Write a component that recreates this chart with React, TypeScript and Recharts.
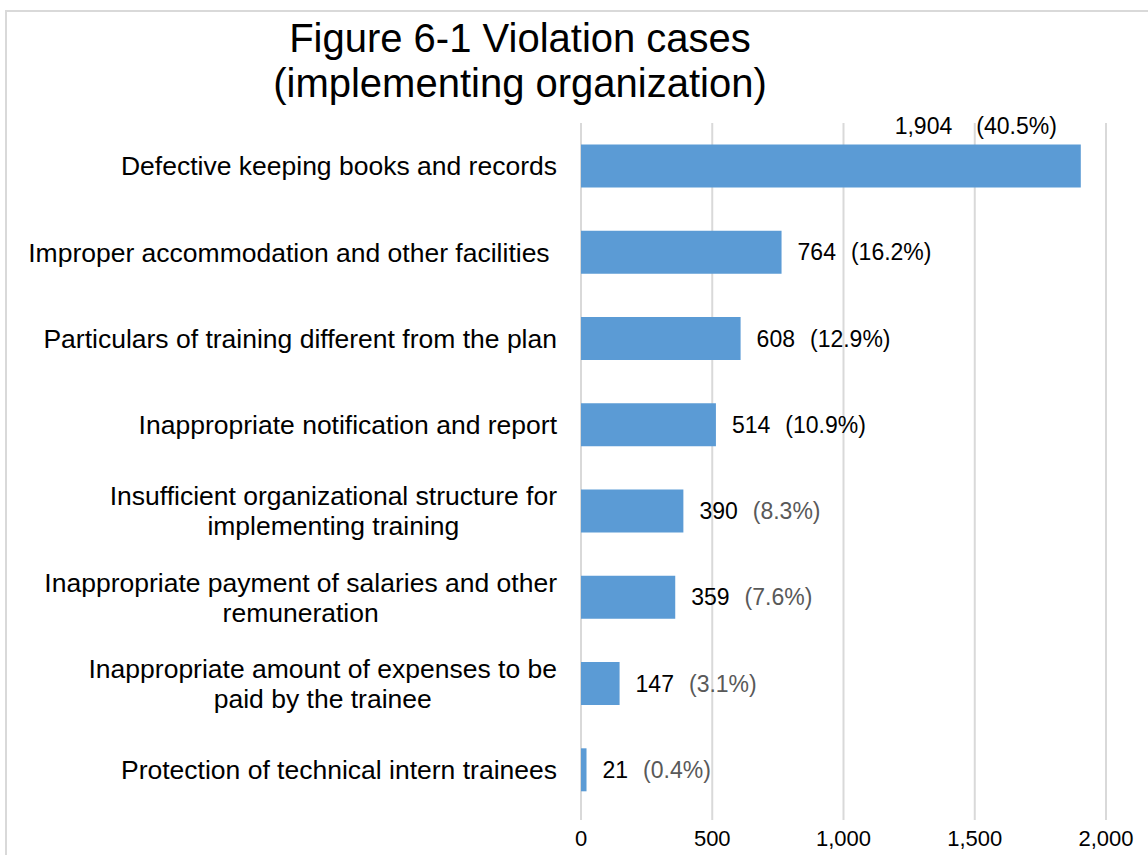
import React from "react";
import {
  BarChart,
  Bar,
  XAxis,
  YAxis,
  CartesianGrid,
  LabelList,
} from "recharts";

const categories = [
  "Defective keeping books and records",
  "Improper accommodation and other facilities ",
  "Particulars of training different from the plan",
  "Inappropriate notification and report",
  "Insufficient organizational structure for\nimplementing training",
  "Inappropriate payment of salaries and other\nremuneration",
  "Inappropriate amount of expenses to be\npaid by the trainee",
  "Protection of technical intern trainees",
];

const cases = [1904, 764, 608, 514, 390, 359, 147, 21];

const shares = ["40.5%", "16.2%", "12.9%", "10.9%", "8.3%", "7.6%", "3.1%", "0.4%"];

const xTicks = [0, 500, 1000, 1500, 2000];

const data = categories.map((name, i) => ({ name, cases: cases[i], share: shares[i] }));

const FONT = "'Liberation Sans', Arial, sans-serif";
const BLUE = "#5b9bd5";
const GRID = "#d9d9d9";
const CAT_SIZE = 26.5;

let ctx: CanvasRenderingContext2D | null = null;
function measure(text: string, size: number) {
  if (!ctx) ctx = document.createElement("canvas").getContext("2d");
  if (!ctx) return text.length * size * 0.5;
  ctx.font = `${size}px 'Liberation Sans'`;
  return ctx.measureText(text).width;
}

// right-aligned block, lines centred inside it (like Excel wraps)
function CategoryTick(props: any) {
  const { y, payload } = props;
  const lines: string[] = String(payload.value).split("\n");
  const right = 557;
  const w = Math.max(...lines.map((l) => measure(l, CAT_SIZE)));
  const cx = right - w / 2;
  const lh = 30;
  const start = y - ((lines.length - 1) * lh) / 2;
  return (
    <text
      textAnchor="middle"
      fontFamily={FONT}
      fontSize={CAT_SIZE}
      fill="#000"
      style={{ whiteSpace: "pre" }}
    >
      {lines.map((l, i) => (
        <tspan key={i} x={cx} y={start + i * lh} dy="0.35em">
          {l}
        </tspan>
      ))}
    </text>
  );
}

function ValueTick(props: any) {
  const { x, y, payload } = props;
  return (
    <text x={x} y={y} dy={24} textAnchor="middle" fontFamily={FONT} fontSize={22} fill="#000">
      {Number(payload.value).toLocaleString("en-US")}
    </text>
  );
}

function BarLabel(props: any) {
  const { x, y, width, height, index } = props;
  const d = data[index];
  const pctColor = index < 4 ? "#000" : "#595959";
  if (index === 0) {
    return (
      <text
        x={x + width - 24}
        y={y - 19}
        textAnchor="end"
        dominantBaseline="central"
        fontFamily={FONT}
        fontSize={23}
        fill="#000"
      >
        <tspan>{d.cases.toLocaleString("en-US")}</tspan>
        <tspan dx={24} fill={pctColor}>({d.share})</tspan>
      </text>
    );
  }
  return (
    <text
      x={x + width + 16}
      y={y + height / 2}
      dominantBaseline="central"
      fontFamily={FONT}
      fontSize={23}
      fill="#000"
    >
      <tspan>{d.cases.toLocaleString("en-US")}</tspan>
      <tspan dx={15} fill={pctColor}>({d.share})</tspan>
    </text>
  );
}

export default function App() {
  return (
    <div
      style={{
        position: "absolute",
        left: 0,
        top: 0,
        width: 1148,
        height: 855,
        overflow: "hidden",
        background: "#fff",
      }}
    >
      <div
        style={{
          position: "absolute",
          left: 5,
          top: 10,
          width: 1200,
          height: 900,
          border: `2px solid ${GRID}`,
        }}
      />
      <div
        style={{
          position: "absolute",
          left: 0,
          top: 16,
          width: 1040,
          textAlign: "center",
          fontFamily: FONT,
          fontSize: 40,
          lineHeight: "45px",
          color: "#000",
        }}
      >
        Figure 6-1 Violation cases
        <br />
        (implementing organization)
      </div>
      <div style={{ position: "absolute", left: 0, top: 0 }}>
        <BarChart
          width={1148}
          height={855}
          data={data}
          layout="vertical"
          margin={{ top: 123, right: 42, bottom: 0, left: 0 }}
          barCategoryGap="25%"
        >
          <CartesianGrid horizontal={false} stroke={GRID} strokeWidth={2} />
          <XAxis
            type="number"
            domain={[0, 2000]}
            ticks={xTicks}
            height={42}
            axisLine={false}
            tickLine={{ stroke: GRID, strokeWidth: 2 }}
            tickSize={7}
            tick={<ValueTick />}
          />
          <YAxis
            type="category"
            dataKey="name"
            width={581}
            axisLine={false}
            tickLine={false}
            tick={<CategoryTick />}
            interval={0}
          />
          <Bar dataKey="cases" fill={BLUE} isAnimationActive={false}>
            <LabelList dataKey="cases" content={<BarLabel />} />
          </Bar>
        </BarChart>
      </div>
    </div>
  );
}
